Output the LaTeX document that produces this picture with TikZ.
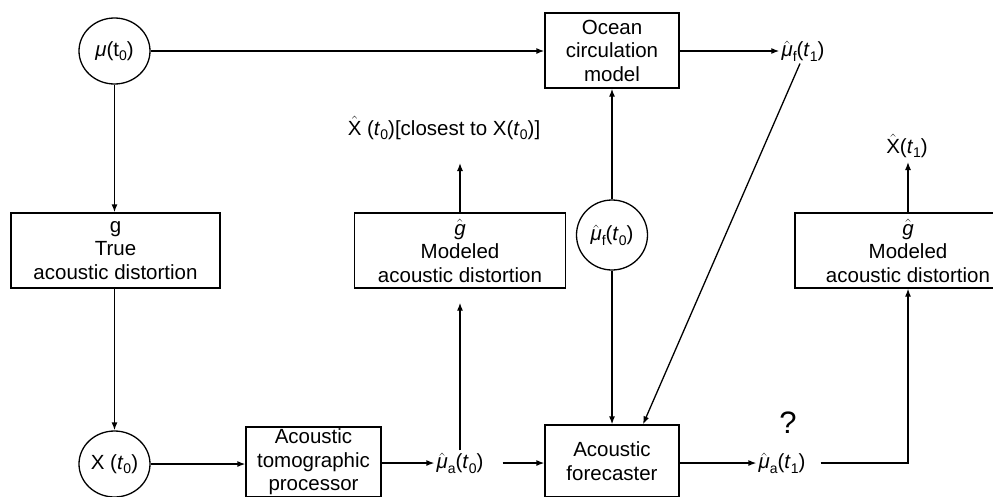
\documentclass[tikz,border=0pt]{standalone}
\usepackage{amsmath}
\usepackage{fontspec}
\setmainfont{Liberation Sans}
\usetikzlibrary{shapes.geometric,arrows.meta}
\newcommand\lowsub[1]{\raisebox{-0.4ex}{\fontsize{14}{14}\selectfont #1}}
\newcommand\tit{\textit{t}}
\newcommand\hmu{$\hat{\text{\itshape μ}}$}
\newcommand\hg{$\hat{\text{\itshape g}}$}
\newcommand\hX{$\hat{\text{X}}$}
\begin{document}
\begin{tikzpicture}[x=1pt,y=-1pt,
  txt/.style={font=\fontsize{20.5}{23.5}\selectfont},
  box/.style={txt,draw,line width=1.3pt,align=center,inner sep=0pt},
  circ/.style={txt,draw,ellipse,line width=1.3pt,inner sep=0pt,minimum width=71pt,minimum height=66pt},
  lbl/.style={txt,inner sep=2pt},
  arr/.style={-{Latex[length=8pt,width=6pt]},line width=1.3pt}]
\clip (0,0) rectangle (993,496);
\useasboundingbox (0,0) rectangle (993,496);
% nodes
\node[circ] (mu) at (114.5,51) {\textit{μ}(t\lowsub{0})};
\node[box,minimum width=134pt,minimum height=75pt] (ocean) at (612,50.5) {Ocean\\circulation\\model};
\node[lbl] (muft1) at (803,51) {\hmu\lowsub{f}(\tit\lowsub{1})};
\node[box,minimum width=209pt,minimum height=75pt] (g) at (115.5,250.5) {g\\True\\acoustic distortion};
\node[circ] (X0) at (114.5,464) {X (\tit\lowsub{0})};
\node[box,minimum width=135pt,minimum height=70pt] (atp) at (313.5,462) {Acoustic\\tomographic\\processor};
\node[lbl] (mua0) at (460,463) {\hmu\lowsub{a}(\tit\lowsub{0})};
\node[box,minimum width=211pt,minimum height=75pt] (mod1) at (460,250.5) {\hg\\Modeled\\acoustic distortion};
\node[lbl] (Xhat0) at (444,128) {\hX\ (\tit\lowsub{0})[closest to X(\tit\lowsub{0})]};
\coordinate (x0tip) at (460,163);
\node[circ,minimum width=71pt,minimum height=70pt] (muf0) at (612,235) {\hmu\lowsub{f}(\tit\lowsub{0})};
\node[box,minimum width=134pt,minimum height=72pt] (fore) at (612,461) {Acoustic\\forecaster};
\node[lbl] (mua1) at (782,463) {\hmu\lowsub{a}(\tit\lowsub{1})};
\node[inner sep=0pt,font=\fontsize{31}{31}\selectfont] (q) at (788,423) {?};
\node[box,minimum width=226pt,minimum height=75pt] (mod2) at (908,250.5) {\hg\\Modeled\\acoustic distortion};
\node[lbl] (Xhat1) at (907,146) {\hX(\tit\lowsub{1})};
\coordinate (x1tip) at (908,162);
% connectors
\draw[arr] (mu.east) -- (mu.east -| ocean.west);
\draw[arr] (ocean.east |- muft1.west) -- (muft1.west);
\draw[arr] ([xshift=-3pt]muft1.south) -- ([xshift=31pt]fore.north);
\draw[arr] (mu.south) -- (mu.south |- g.north);
\draw[arr] (X0.north |- g.south) -- (X0.north);
\draw[arr] (X0.east) -- (X0.east -| atp.west);
\draw[arr] (atp.east |- mua0.west) -- (mua0.west);
\draw[arr] (mua0.north) -- ([yshift=-14pt]mod1.south);
\draw[arr] (mod1.north) -- (x0tip);
\draw[arr] (muf0.north) -- (ocean.south);
\draw[arr] (muf0.south) -- (fore.north);
\draw[arr] ([xshift=17pt]mua0.east) -- (fore.west |- mua0.east);
\draw[arr] (fore.east |- mua1.west) -- (mua1.west);
\draw[arr] ([xshift=13pt]mua1.east) -| (mod2.south);
\draw[arr] (mod2.north) -- (x1tip);
\end{tikzpicture}
\end{document}
